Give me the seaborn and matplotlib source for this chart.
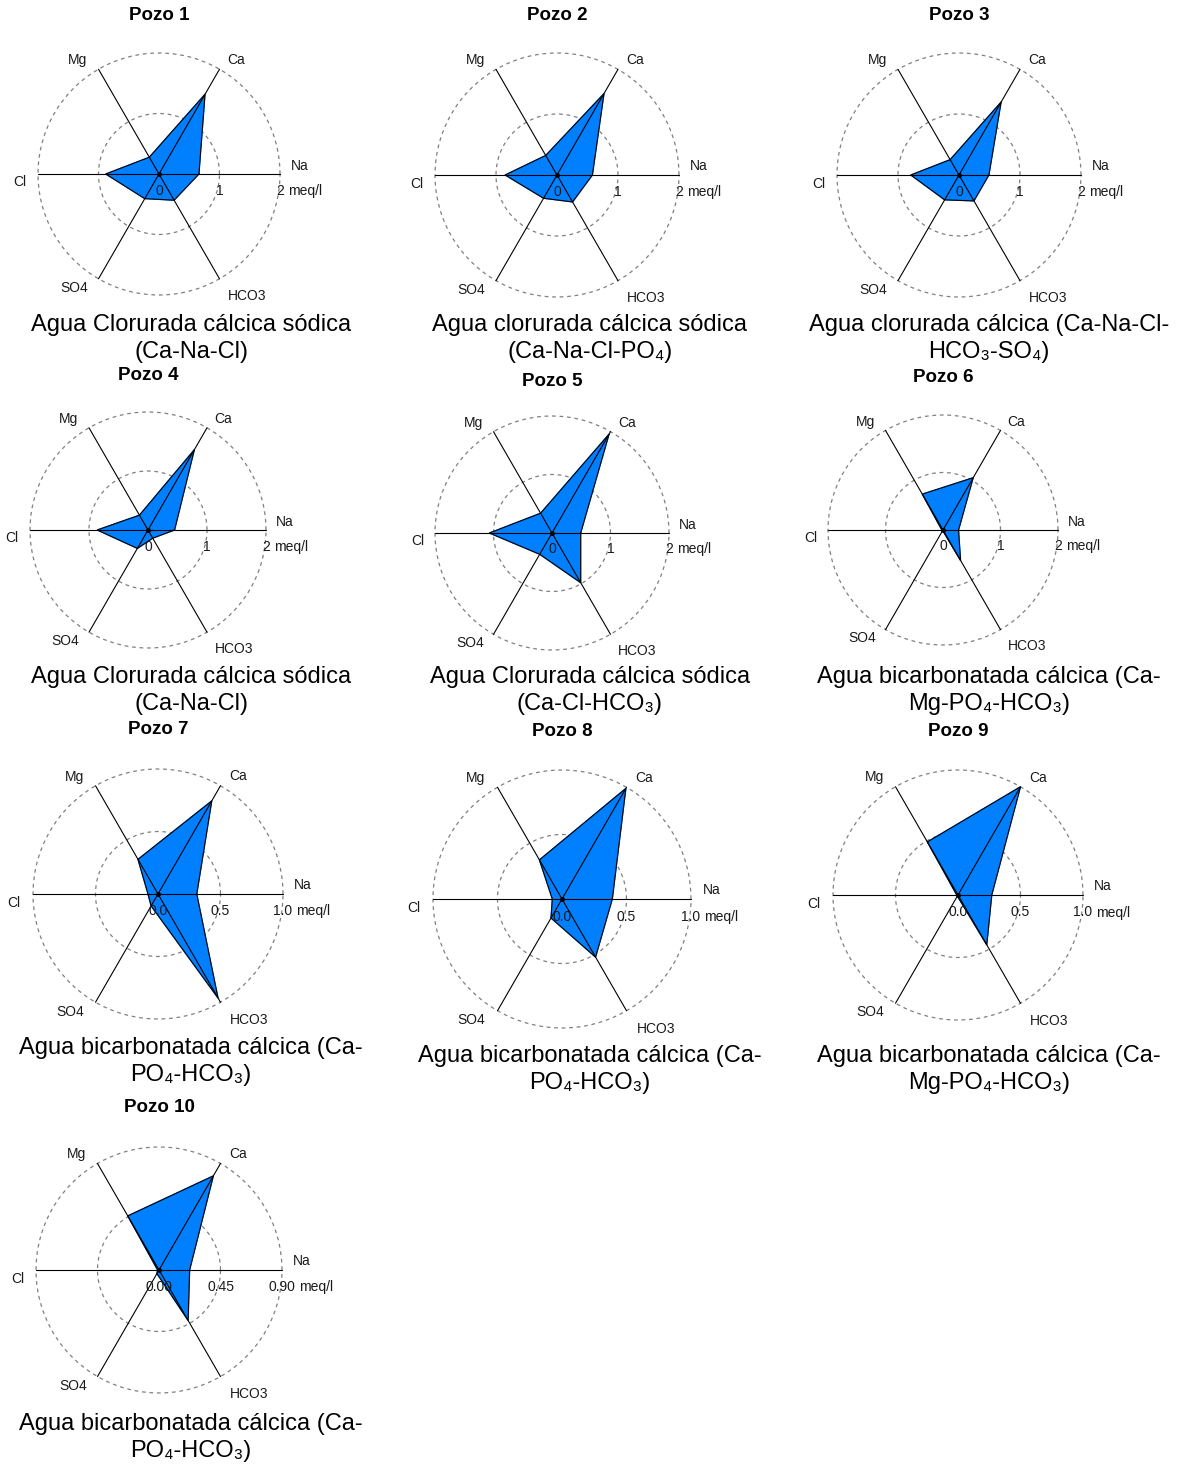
import numpy as np
import matplotlib
matplotlib.use("Agg")
import matplotlib.pyplot as plt
import seaborn as sns

# Ion axes, counter-clockwise from the right-hand horizontal
ions = ["Na", "Ca", "Mg", "Cl", "SO4", "HCO3"]

# Concentrations (meq/l) in the order of `ions`
pozo_1 = [0.66, 1.52, 0.32, 0.88, 0.47, 0.50]
pozo_2 = [0.58, 1.54, 0.37, 0.85, 0.44, 0.51]
pozo_3 = [0.49, 1.38, 0.29, 0.79, 0.47, 0.49]
pozo_4 = [0.45, 1.57, 0.29, 0.86, 0.36, 0.16]
pozo_5 = [0.49, 1.95, 0.39, 1.07, 0.42, 0.98]
pozo_6 = [0.27, 1.05, 0.72, 0.02, 0.01, 0.61]
pozo_7 = [0.31, 0.86, 0.32, 0.08, 0.11, 0.96]
pozo_8 = [0.39, 0.99, 0.35, 0.075, 0.17, 0.52]
pozo_9 = [0.27, 1.00, 0.49, 0.01, 0.01, 0.46]
pozo_10 = [0.224, 0.795, 0.457, 0.01, 0.03, 0.426]

pozo_names = ["Pozo 1", "Pozo 2", "Pozo 3", "Pozo 4", "Pozo 5",
              "Pozo 6", "Pozo 7", "Pozo 8", "Pozo 9", "Pozo 10"]
pozo_values = [pozo_1, pozo_2, pozo_3, pozo_4, pozo_5,
               pozo_6, pozo_7, pozo_8, pozo_9, pozo_10]

# Radial scale of each chart
scale_max = [2, 2, 2, 2, 2, 2, 1.0, 1.0, 1.0, 0.90]
scale_labels = [["0", "1", "2"]] * 6 + [["0.0", "0.5", "1.0"]] * 3 + [["0.00", "0.45", "0.90"]]

captions = [
    ["Agua Clorurada cálcica sódica", "(Ca-Na-Cl)"],
    ["Agua clorurada cálcica sódica", "(Ca-Na-Cl-PO₄)"],
    ["Agua clorurada cálcica (Ca-Na-Cl-", "HCO₃-SO₄)"],
    ["Agua Clorurada cálcica sódica", "(Ca-Na-Cl)"],
    ["Agua Clorurada cálcica sódica", "(Ca-Cl-HCO₃)"],
    ["Agua bicarbonatada cálcica (Ca-", "Mg-PO₄-HCO₃)"],
    ["Agua bicarbonatada cálcica (Ca-", "PO₄-HCO₃)"],
    ["Agua bicarbonatada cálcica (Ca-", "PO₄-HCO₃)"],
    ["Agua bicarbonatada cálcica (Ca-", "Mg-PO₄-HCO₃)"],
    ["Agua bicarbonatada cálcica (Ca-", "PO₄-HCO₃)"],
]

# Layout (pixels, origin at top-left): chart centre, radius, title y, caption y
layout = [
    (159, 174, 121, 16, 191, 325),
    (557, 175, 122, 15, 590, 325),
    (959, 175, 122, 16, 989, 325),
    (148, 530, 118, 376, 191, 677),
    (552, 533, 117, 381, 590, 677),
    (943, 530, 115, 378, 989, 677),
    (158, 894, 125, 729, 191, 1048),
    (562, 899, 129, 732, 590, 1056),
    (958, 895, 125, 731, 989, 1056),
    (159, 1270, 123, 1108, 191, 1424),
]

# Ion label offsets as fractions of the radius (x right, y up)
label_offsets = [(1.16, 0.07), (0.64, 0.94), (-0.67, 0.94),
                 (-1.15, -0.07), (-0.70, -0.94), (0.73, -1.01)]

sns.set_theme(style="white")
plt.rcParams["font.family"] = ["Liberation Sans", "DejaVu Sans"]

W, H = 1177, 1464
fig = plt.figure(figsize=(W / 100, H / 100), dpi=100)
fig.patch.set_facecolor("white")


def fx(x):
    return x / W


def fy(y):
    return 1 - y / H


LABEL_PT = 10
LABEL_PX = LABEL_PT * 100 / 72
CHAR_W = {"0": 0.556, "1": 0.556, "2": 0.556, "4": 0.556, "5": 0.556, "9": 0.556, ".": 0.278}

theta = np.deg2rad(np.arange(len(ions)) * 60.0)
ring = np.linspace(0, 2 * np.pi, 240)

for name, vals, rmax, ticks, cap, (cx, cy, R, ty, capx, capy) in zip(
        pozo_names, pozo_values, scale_max, scale_labels, captions, layout):
    ax = fig.add_axes([fx(cx - R), fy(cy + R), 2 * R / W, 2 * R / H],
                      projection="polar")
    ax.set_ylim(0, rmax)
    ax.set_axis_off()

    # dashed reference circles
    for rr in (rmax / 2, rmax):
        ax.plot(ring, np.full_like(ring, rr), ls=(0, (3, 3)), color="#808080",
                lw=0.9, clip_on=False, zorder=1)

    # ion polygon
    tc = np.append(theta, theta[0])
    vc = np.append(vals, vals[0])
    ax.fill(tc, vc, color="#0080FF", zorder=2, clip_on=False)
    sns.lineplot(x=tc, y=vc, sort=False, estimator=None, color="black",
                 lw=0.8, ax=ax, zorder=3, legend=False)
    ax.set_axis_off()

    # spokes
    for t in theta:
        ax.plot([t, t], [0, rmax], color="black", lw=0.8, zorder=4, clip_on=False)
    ax.plot([0], [0], "o", color="black", ms=2.5, zorder=5)

    # ion labels
    for ion, (ox, oy) in zip(ions, label_offsets):
        fig.text(fx(cx + ox * R), fy(cy - oy * R), ion, ha="center", va="center",
                 fontsize=LABEL_PT, color="#1a1a1a")

    # radial scale labels along the Na axis
    ly = cy + 0.14 * R
    for i, tk in enumerate(ticks):
        xpos = cx + R * i / 2
        fig.text(fx(xpos), fy(ly), tk, ha="center", va="center",
                 fontsize=LABEL_PT, color="#1a1a1a")
        if i == len(ticks) - 1:
            numw = sum(CHAR_W.get(c, 0.556) for c in tk) * LABEL_PX
            fig.text(fx(xpos + numw / 2 + 0.278 * LABEL_PX), fy(ly), "meq/l",
                     ha="left", va="center", fontsize=LABEL_PT, color="#1a1a1a")

    # title
    fig.text(fx(cx), fy(ty), name, ha="center", va="center",
             fontsize=13.5, fontweight="bold", color="black")

    # caption (two lines)
    for j, line in enumerate(cap):
        fig.text(fx(capx), fy(capy + 27 * j), line, ha="center", va="center",
                 fontsize=17, color="black")

fig.savefig("out.png", dpi=100, facecolor="white")
